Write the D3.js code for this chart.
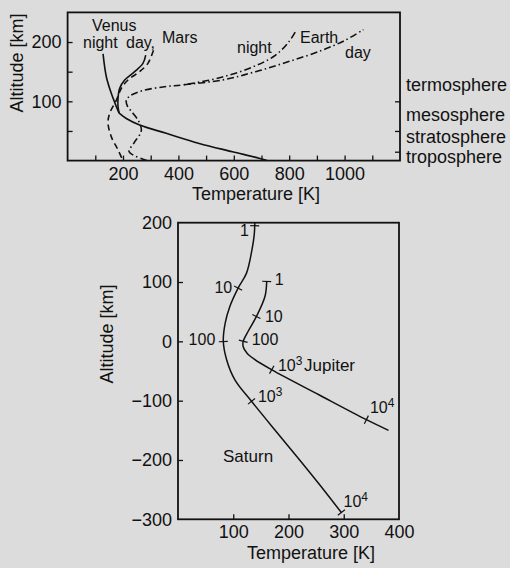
<!DOCTYPE html>
<html><head><meta charset="utf-8">
<script src="https://cdn.jsdelivr.net/npm/d3@7"></script>
<style>
body{margin:0;background:#dcdcdc;}
svg{display:block;}
text{font-family:"Liberation Sans",Arial,Helvetica,sans-serif;fill:#111;}
</style>
</head><body>
<svg id="c" width="510" height="568"></svg>
<script>
// ---------------- DATA ----------------
// Top panel: terrestrial planets, [temperature K, altitude km]
const topTempTicks = [100,200,300,400,500,600,700,800,900,1000,1100];
const topTempLabels = [200,400,600,800,1000];
const topAltTicks = [50,100,150,200];
const topAltLabels = [100,200];
const layerBoundaries = [100,50,15];
const layerNames = ["termosphere","mesosphere","stratosphere","troposphere"];
const layerLabelAlt = [117,66,29,-4.5];

const venusNight = [[128,180],[140,141],[158,113],[176,91],[186,80]];
const venusDay = [[282,178],[272,164],[242,150],[206,136],[188,122],[182,105],[182,91],[186,80]];
const venusLower = [[186,80],[212,71],[260,60],[356,46],[475,29],[595,15],[691,4],[720,0]];
const mars = [[310,186],[290,164],[260,150],[218,136],[194,122],[176,102],[152,80],[146,63],[158,40],[182,18],[200,0]];
const earthLower = [[286,0],[222,15],[240,30],[266,50],[258,65],[236,80],[216,92],[212,102],[228,110],[270,118],[356,125],[420,128]];
const earthNight = [[420,128],[559,141],[679,160],[751,178],[798,200],[822,217]];
const earthDay = [[420,128],[559,136],[679,150],[798,167],[918,186],[1002,203],[1068,221]];

// Bottom panel: giant planets
const botTempTicks = [100,200,300];
const botTempLabels = [100,200,300,400];
const botAltTicks = [100,0,-100,-200];
const botAltLabels = [200,100,0,-100,-200,-300];
const saturn = [[139,200],[138,180],[134,155],[124,115],[109,90],[94,59],[85.5,31],[82,0],[88,-31],[103,-65],[133,-101],[175,-149],[215,-194],[255,-240],[296,-289]];
const jupiter = [[160.5,101],[157.5,76],[142,42],[127,17],[118,0],[118,-9],[125,-20],[138,-30],[170,-48],[255,-90],[341,-132],[381,-150]];
// pressure markers [T, h, base, exponent]
const saturnMarkers = [[139,195,"1",""],[109,90,"10",""],[82,0,"100",""],[133,-101,"10","3"],[296,-289,"10","4"]];
const jupiterMarkers = [[160.5,101,"1",""],[142,42,"10",""],[118,0,"100",""],[170,-48,"10","3"],[341,-132,"10","4"]];

// ---------------- LAYOUT ----------------
const saturnLabelLayout = [{a:"end",dx:-6,dy:10},{a:"end",dx:-6,dy:5},{a:"end",dx:-8,dy:4},{a:"start",dx:6.5,dy:0.5},{a:"start",dx:2,dy:-6}];
const jupiterLabelLayout = [{a:"start",dx:8,dy:4},{a:"start",dx:8.5,dy:6},{a:"start",dx:8.5,dy:3.5},{a:"start",dx:6,dy:1},{a:"start",dx:3.5,dy:-7}];

(function(){
const svg = d3.select("#c");
svg.append("rect").attr("width",510).attr("height",568).attr("fill","#dcdcdc");

const xTop = d3.scaleLinear([0,1200],[67.6,400]);
const yTop = d3.scaleLinear([0,250],[160.6,12.4]);
const xBot = d3.scaleLinear([0,400],[178,399]);
const yBot = d3.scaleLinear([-300,200],[519.3,222.7]);

const FONT = '"Liberation Sans",Arial,Helvetica,sans-serif';

function styleAxis(g, fs){
  g.select(".domain").remove();
  g.attr("font-family",FONT).attr("font-size",fs);
  g.selectAll("line").attr("stroke","#111").attr("stroke-width",1.3);
  g.selectAll("text").attr("fill","#111");
}

// ---- top panel ----
const topG = svg.append("g");
topG.append("g").attr("transform",`translate(0,${yTop(0)})`)
  .call(d3.axisBottom(xTop).tickValues(topTempTicks).tickSizeInner(-5).tickSizeOuter(0).tickPadding(7)
    .tickFormat(d => topTempLabels.includes(d) ? d : ""))
  .call(g=>styleAxis(g,18));
topG.append("g").attr("transform",`translate(${xTop(0)},0)`)
  .call(d3.axisLeft(yTop).tickValues(topAltTicks).tickSizeInner(-5).tickSizeOuter(0).tickPadding(6)
    .tickFormat(d => topAltLabels.includes(d) ? d : ""))
  .call(g=>styleAxis(g,18));
topG.append("g").attr("transform",`translate(${xTop(1200)},0)`)
  .call(d3.axisRight(yTop).tickValues(layerBoundaries).tickSizeInner(-5).tickSizeOuter(0).tickFormat(""))
  .call(g=>styleAxis(g,18));
topG.append("rect").attr("x",xTop(0)).attr("y",yTop(250)).attr("width",xTop(1200)-xTop(0)).attr("height",yTop(0)-yTop(250))
  .attr("fill","none").attr("stroke","#111").attr("stroke-width",1.8);

const lineTop = d3.line().x(d=>xTop(d[0])).y(d=>yTop(d[1])).curve(d3.curveCatmullRom.alpha(0.5));
function drawTop(data, dash){
  topG.append("path").attr("d",lineTop(data)).attr("fill","none").attr("stroke","#111")
    .attr("stroke-width",1.6).attr("stroke-dasharray",dash||null);
}
drawTop(venusNight); drawTop(venusDay); drawTop(venusLower);
drawTop(mars,"6,4");
drawTop(earthLower.concat(earthNight.slice(1)),"7,3,1.5,3");
drawTop(earthDay,"7,3,1.5,3");

layerNames.forEach((n,i)=>{
  topG.append("text").attr("x",406).attr("y",yTop(layerLabelAlt[i])).attr("font-size",18).text(n);
});
const topLabels = [["Venus",92,30.5],["night",83,48],["day,",126,48],["Mars",162,43.3],["night",237,52.5],["Earth",300,43.3],["day",345,58]];
topLabels.forEach(t=> topG.append("text").attr("x",t[1]).attr("y",t[2]).attr("font-size",16).text(t[0]));
topG.append("text").attr("x",192).attr("y",200).attr("font-size",18).text("Temperature [K]");
topG.append("text").attr("transform","translate(23,63) rotate(-90)").attr("text-anchor","middle").attr("font-size",18).text("Altitude [km]");

// ---- bottom panel ----
const bot = svg.append("g");
bot.append("g").attr("transform",`translate(0,${yBot(-300)})`)
  .call(d3.axisBottom(xBot).tickValues(botTempTicks).tickSizeInner(-5).tickSizeOuter(0).tickFormat(""))
  .call(g=>styleAxis(g,18));
bot.append("g").attr("transform",`translate(0,${yBot(-300)})`)
  .call(d3.axisBottom(xBot).tickValues(botTempLabels).tickSize(0).tickPadding(5.5))
  .call(g=>styleAxis(g,18));
bot.append("g").attr("transform",`translate(${xBot(0)},0)`)
  .call(d3.axisLeft(yBot).tickValues(botAltTicks).tickSizeInner(-5).tickSizeOuter(0).tickFormat(""))
  .call(g=>styleAxis(g,18));
bot.append("g").attr("transform",`translate(${xBot(0)},0)`)
  .call(d3.axisLeft(yBot).tickValues(botAltLabels).tickSize(0).tickPadding(6))
  .call(g=>styleAxis(g,18));
bot.append("rect").attr("x",xBot(0)).attr("y",yBot(200)).attr("width",xBot(400)-xBot(0)).attr("height",yBot(-300)-yBot(200))
  .attr("fill","none").attr("stroke","#111").attr("stroke-width",1.8);

const lineBot = d3.line().x(d=>xBot(d[0])).y(d=>yBot(d[1])).curve(d3.curveCatmullRom.alpha(0.5));
function drawBot(data, markers, layout){
  const p = bot.append("path").attr("d",lineBot(data)).attr("fill","none").attr("stroke","#111").attr("stroke-width",1.5);
  const node = p.node(), L = node.getTotalLength();
  markers.forEach((m,i)=>{
    const mx = xBot(m[0]), my = yBot(m[1]);
    let best=0, bd=1e9;
    for(let s=0;s<=L;s+=0.5){const q=node.getPointAtLength(s);const d=(q.x-mx)**2+(q.y-my)**2;if(d<bd){bd=d;best=s;}}
    const a=node.getPointAtLength(Math.max(0,best-2)), b=node.getPointAtLength(Math.min(L,best+2));
    const c=node.getPointAtLength(best);
    let tx=b.x-a.x, ty=b.y-a.y; const n=Math.hypot(tx,ty)||1; tx/=n; ty/=n;
    const nx=-ty, ny=tx, h=4.5;
    bot.append("line").attr("x1",c.x-nx*h).attr("y1",c.y-ny*h).attr("x2",c.x+nx*h).attr("y2",c.y+ny*h)
      .attr("stroke","#111").attr("stroke-width",1.2);
    const lay = layout[i];
    const t = bot.append("text").attr("x",mx+lay.dx).attr("y",my+lay.dy).attr("text-anchor",lay.a).attr("font-size",16);
    t.append("tspan").text(m[2]);
    if(m[3]) t.append("tspan").attr("font-size",12).attr("dy",-6).text(m[3]);
  });
}
drawBot(saturn, saturnMarkers, saturnLabelLayout);
drawBot(jupiter, jupiterMarkers, jupiterLabelLayout);
bot.append("text").attr("x",304).attr("y",371).attr("font-size",17).text("Jupiter");
bot.append("text").attr("x",223).attr("y",461.7).attr("font-size",17).text("Saturn");
bot.append("text").attr("x",247).attr("y",558.5).attr("font-size",18).text("Temperature [K]");
bot.append("text").attr("transform","translate(113,334) rotate(-90)").attr("text-anchor","middle").attr("font-size",18).text("Altitude [km]");
})();
</script>
</body></html>
